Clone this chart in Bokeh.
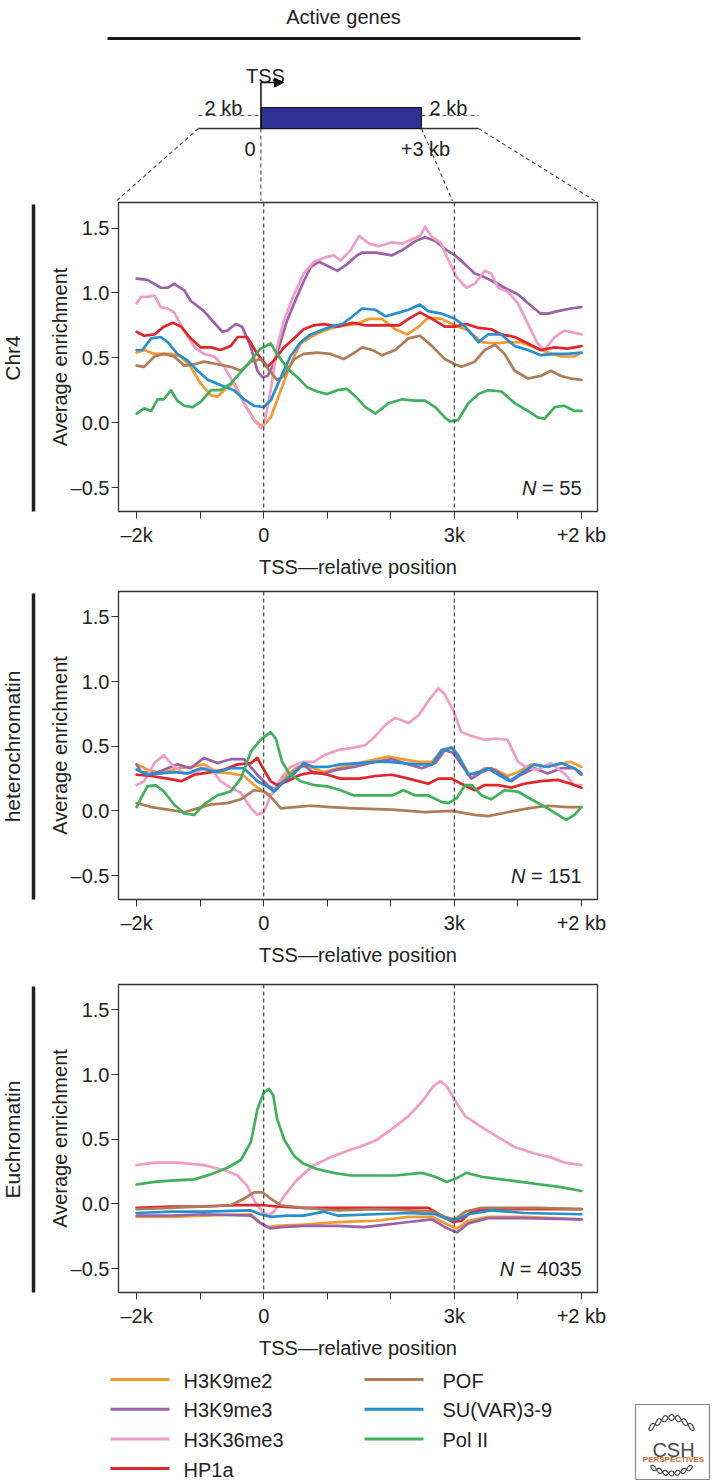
import numpy as np
from bokeh.plotting import figure
from bokeh.layouts import column, row
from bokeh.models import Range1d, FixedTicker, Label, Span, Arrow, NormalHead
from bokeh.core.properties import value
from bokeh.embed import file_html
from bokeh.resources import INLINE

# ---------------- data ----------------
SERIES = ["H3K9me2", "H3K9me3", "H3K36me3", "HP1a", "POF", "SU(VAR)3-9", "Pol II"]
COLORS = ["#F39A2E", "#9B62AC", "#F19CC7", "#E2242B", "#B07C57", "#2590CF", "#3FB15B"]
PANEL_NAMES = ["Chr4", "heterochromatin", "Euchromatin"]
PANEL_N = ["55", "151", "4035"]
X_TICKS = [-2, -1, 0, 1, 2, 3, 4, 5]
X_TICK_LABELS = ["\u20132k", "", "0", "", "", "3k", "", "+2 kb"]
Y_TICKS = [-0.5, 0.0, 0.5, 1.0, 1.5]
Y_TICK_LABELS = ["\u20130.5", "0.0", "0.5", "1.0", "1.5"]

# Chr4 (x in kb relative to TSS, gene body 0..3, flanks 2 kb)
CHR4_H3K9ME2 = [(-2.0,0.54),(-1.88,0.56),(-1.72,0.53),(-1.46,0.53),(-1.30,0.51),(-1.15,0.43),(-0.99,0.30),(-0.83,0.21),(-0.73,0.20),(-0.60,0.26),(-0.47,0.31),(-0.31,0.15),(-0.15,0.02),(-0.02,-0.03),(0.11,0.04),(0.27,0.25),(0.42,0.45),(0.58,0.61),(0.74,0.66),(0.95,0.71),(1.16,0.74),(1.45,0.76),(1.66,0.80),(1.86,0.80),(2.07,0.72),(2.26,0.68),(2.44,0.74),(2.59,0.81),(2.80,0.80),(3.01,0.75),(3.22,0.71),(3.43,0.62),(3.64,0.61),(3.84,0.62),(4.05,0.62),(4.26,0.58),(4.47,0.54),(4.68,0.51),(4.89,0.51),(5.0,0.54)]
CHR4_H3K9ME3 = [(-2.0,1.11),(-1.83,1.10),(-1.62,1.04),(-1.51,1.04),(-1.41,1.07),(-1.25,1.02),(-1.15,0.94),(-0.94,0.86),(-0.78,0.77),(-0.65,0.70),(-0.57,0.71),(-0.44,0.76),(-0.34,0.74),(-0.20,0.58),(-0.10,0.40),(-0.02,0.35),(0.06,0.36),(0.16,0.45),(0.27,0.63),(0.37,0.79),(0.48,0.92),(0.63,1.09),(0.74,1.20),(0.87,1.24),(1.0,1.21),(1.16,1.17),(1.31,1.22),(1.47,1.29),(1.55,1.31),(1.76,1.31),(2.02,1.29),(2.18,1.33),(2.39,1.40),(2.54,1.43),(2.70,1.40),(2.85,1.34),(3.01,1.29),(3.17,1.22),(3.32,1.15),(3.48,1.12),(3.64,1.08),(3.79,1.04),(4.0,0.99),(4.16,0.92),(4.36,0.84),(4.47,0.84),(4.63,0.86),(4.83,0.88),(5.0,0.89)]
CHR4_H3K36ME3 = [(-2.0,0.92),(-1.93,0.97),(-1.83,0.97),(-1.72,0.98),(-1.62,0.89),(-1.51,0.88),(-1.41,0.85),(-1.25,0.71),(-1.09,0.58),(-0.94,0.53),(-0.78,0.51),(-0.62,0.43),(-0.47,0.30),(-0.31,0.15),(-0.15,0.02),(-0.05,-0.04),(0.0,-0.03),(0.11,0.25),(0.21,0.58),(0.32,0.79),(0.48,0.99),(0.63,1.15),(0.79,1.24),(0.95,1.27),(1.10,1.29),(1.21,1.25),(1.37,1.33),(1.50,1.44),(1.66,1.38),(1.81,1.36),(2.02,1.39),(2.18,1.38),(2.36,1.42),(2.46,1.44),(2.54,1.51),(2.65,1.43),(2.78,1.39),(2.91,1.25),(3.04,1.12),(3.19,1.04),(3.32,1.07),(3.48,1.17),(3.58,1.15),(3.69,1.04),(3.84,1.01),(4.0,0.92),(4.16,0.76),(4.31,0.61),(4.42,0.56),(4.58,0.66),(4.73,0.71),(5.0,0.68)]
CHR4_HP1A = [(-2.0,0.70),(-1.88,0.67),(-1.72,0.68),(-1.57,0.74),(-1.43,0.77),(-1.30,0.74),(-1.15,0.65),(-0.99,0.58),(-0.83,0.58),(-0.68,0.56),(-0.52,0.59),(-0.41,0.66),(-0.26,0.66),(-0.10,0.53),(0.06,0.43),(0.16,0.48),(0.32,0.58),(0.48,0.65),(0.63,0.72),(0.79,0.75),(0.95,0.76),(1.16,0.74),(1.40,0.77),(1.60,0.75),(1.86,0.75),(2.13,0.75),(2.28,0.80),(2.46,0.85),(2.65,0.80),(2.85,0.74),(3.01,0.74),(3.19,0.76),(3.38,0.73),(3.58,0.72),(3.74,0.68),(3.95,0.66),(4.16,0.61),(4.36,0.56),(4.58,0.58),(4.78,0.57),(5.0,0.59)]
CHR4_POF = [(-2.0,0.44),(-1.88,0.43),(-1.72,0.51),(-1.57,0.53),(-1.41,0.51),(-1.25,0.44),(-1.09,0.45),(-0.94,0.47),(-0.73,0.45),(-0.52,0.43),(-0.36,0.40),(-0.20,0.47),(-0.05,0.49),(0.11,0.39),(0.21,0.33),(0.32,0.36),(0.48,0.49),(0.63,0.53),(0.84,0.54),(1.05,0.53),(1.26,0.49),(1.40,0.53),(1.55,0.58),(1.71,0.56),(1.86,0.52),(2.07,0.56),(2.28,0.65),(2.46,0.67),(2.65,0.59),(2.85,0.49),(3.01,0.45),(3.11,0.43),(3.32,0.47),(3.48,0.56),(3.64,0.60),(3.79,0.53),(3.95,0.40),(4.16,0.34),(4.36,0.36),(4.52,0.40),(4.68,0.36),(4.83,0.34),(5.0,0.33)]
CHR4_SUVAR = [(-2.0,0.56),(-1.91,0.56),(-1.77,0.65),(-1.62,0.66),(-1.51,0.62),(-1.36,0.53),(-1.20,0.48),(-1.04,0.40),(-0.88,0.33),(-0.68,0.29),(-0.47,0.25),(-0.31,0.18),(-0.15,0.13),(0.0,0.12),(0.11,0.17),(0.27,0.35),(0.42,0.51),(0.58,0.62),(0.74,0.68),(0.90,0.71),(1.05,0.74),(1.24,0.76),(1.40,0.82),(1.55,0.88),(1.76,0.87),(1.92,0.82),(2.07,0.84),(2.28,0.87),(2.46,0.91),(2.59,0.86),(2.80,0.84),(3.01,0.80),(3.17,0.74),(3.38,0.62),(3.53,0.68),(3.74,0.68),(3.95,0.59),(4.16,0.56),(4.36,0.52),(4.58,0.53),(4.78,0.53),(5.0,0.54)]
CHR4_POLII = [(-2.0,0.07),(-1.88,0.11),(-1.77,0.09),(-1.67,0.18),(-1.57,0.18),(-1.46,0.25),(-1.36,0.17),(-1.25,0.13),(-1.12,0.12),(-0.99,0.16),(-0.83,0.25),(-0.68,0.25),(-0.52,0.30),(-0.36,0.39),(-0.20,0.48),(-0.05,0.57),(0.11,0.61),(0.21,0.53),(0.37,0.42),(0.53,0.35),(0.69,0.27),(0.84,0.24),(1.0,0.22),(1.16,0.25),(1.31,0.26),(1.45,0.20),(1.60,0.12),(1.76,0.07),(1.97,0.15),(2.18,0.18),(2.39,0.17),(2.54,0.17),(2.70,0.12),(2.85,0.04),(2.93,0.01),(3.06,0.02),(3.22,0.15),(3.38,0.22),(3.53,0.25),(3.74,0.24),(3.95,0.15),(4.16,0.09),(4.31,0.04),(4.42,0.03),(4.58,0.12),(4.73,0.13),(4.89,0.09),(5.0,0.09)]

# heterochromatin
HET_H3K9ME2 = [(-2.0,0.36),(-1.83,0.32),(-1.62,0.29),(-1.36,0.33),(-1.15,0.34),(-0.94,0.36),(-0.73,0.30),(-0.52,0.29),(-0.31,0.27),(-0.15,0.20),(0.0,0.15),(0.11,0.12),(0.21,0.18),(0.37,0.28),(0.53,0.34),(0.74,0.34),(0.95,0.30),(1.16,0.33),(1.42,0.36),(1.76,0.40),(1.97,0.42),(2.18,0.40),(2.44,0.38),(2.65,0.38),(2.80,0.47),(2.96,0.49),(3.06,0.43),(3.22,0.29),(3.32,0.28),(3.48,0.33),(3.64,0.32),(3.84,0.27),(4.0,0.30),(4.21,0.36),(4.42,0.34),(4.63,0.36),(4.83,0.38),(5.0,0.34)]
HET_H3K9ME3 = [(-2.0,0.36),(-1.93,0.30),(-1.72,0.29),(-1.51,0.33),(-1.36,0.36),(-1.15,0.33),(-0.94,0.41),(-0.73,0.37),(-0.52,0.40),(-0.31,0.40),(-0.10,0.28),(0.06,0.20),(0.19,0.16),(0.32,0.23),(0.48,0.30),(0.63,0.36),(0.79,0.29),(0.95,0.29),(1.16,0.32),(1.42,0.34),(1.76,0.38),(2.02,0.40),(2.28,0.36),(2.49,0.33),(2.70,0.37),(2.85,0.47),(2.98,0.45),(3.11,0.36),(3.27,0.25),(3.43,0.30),(3.58,0.33),(3.74,0.28),(3.90,0.23),(4.05,0.28),(4.26,0.33),(4.47,0.29),(4.68,0.33),(4.89,0.33),(5.0,0.28)]
HET_H3K36ME3 = [(-2.0,0.20),(-1.88,0.23),(-1.72,0.37),(-1.57,0.43),(-1.41,0.34),(-1.25,0.29),(-1.09,0.29),(-0.94,0.33),(-0.83,0.33),(-0.68,0.23),(-0.52,0.18),(-0.36,0.14),(-0.20,0.02),(-0.10,-0.03),(0.0,-0.01),(0.11,0.12),(0.27,0.25),(0.42,0.34),(0.63,0.38),(0.79,0.38),(0.95,0.43),(1.16,0.47),(1.42,0.49),(1.60,0.51),(1.76,0.58),(1.92,0.67),(2.07,0.72),(2.28,0.68),(2.44,0.74),(2.59,0.85),(2.75,0.95),(2.85,0.90),(2.98,0.78),(3.11,0.61),(3.27,0.58),(3.48,0.55),(3.64,0.56),(3.84,0.55),(4.0,0.38),(4.16,0.33),(4.31,0.32),(4.52,0.37),(4.73,0.29),(4.89,0.20),(5.0,0.20)]
HET_HP1A = [(-2.0,0.28),(-1.77,0.27),(-1.51,0.25),(-1.30,0.23),(-1.09,0.28),(-0.83,0.30),(-0.62,0.32),(-0.41,0.36),(-0.20,0.37),(-0.10,0.41),(0.0,0.32),(0.11,0.23),(0.21,0.20),(0.37,0.23),(0.58,0.28),(0.79,0.30),(1.0,0.28),(1.21,0.25),(1.50,0.25),(1.76,0.27),(2.02,0.28),(2.28,0.25),(2.59,0.21),(2.75,0.25),(2.96,0.25),(3.11,0.21),(3.32,0.16),(3.48,0.20),(3.69,0.20),(3.90,0.18),(4.10,0.21),(4.36,0.23),(4.63,0.24),(4.83,0.21),(5.0,0.18)]
HET_POF = [(-2.0,0.06),(-1.77,0.03),(-1.51,0.01),(-1.25,-0.01),(-1.04,0.02),(-0.83,0.05),(-0.57,0.06),(-0.36,0.09),(-0.15,0.16),(0.0,0.15),(0.11,0.11),(0.27,0.02),(0.48,0.03),(0.74,0.04),(1.05,0.03),(1.42,0.02),(2.02,0.01),(2.54,-0.01),(2.96,0.0),(3.32,-0.03),(3.53,-0.04),(3.84,-0.01),(4.16,0.02),(4.47,0.04),(4.78,0.03),(5.0,0.03)]
HET_SUVAR = [(-2.0,0.32),(-1.83,0.28),(-1.62,0.29),(-1.41,0.30),(-1.20,0.29),(-0.99,0.33),(-0.73,0.30),(-0.52,0.33),(-0.31,0.33),(-0.10,0.23),(0.06,0.19),(0.16,0.15),(0.32,0.23),(0.48,0.29),(0.63,0.37),(0.79,0.34),(1.0,0.34),(1.21,0.36),(1.50,0.37),(1.76,0.38),(1.97,0.38),(2.18,0.37),(2.44,0.36),(2.65,0.36),(2.80,0.47),(2.96,0.49),(3.06,0.43),(3.22,0.28),(3.38,0.30),(3.53,0.33),(3.69,0.28),(3.87,0.23),(4.05,0.29),(4.26,0.36),(4.47,0.34),(4.68,0.37),(4.89,0.33),(5.0,0.29)]
HET_POLII = [(-2.0,0.03),(-1.93,0.10),(-1.83,0.19),(-1.70,0.20),(-1.57,0.15),(-1.41,0.05),(-1.25,-0.02),(-1.09,-0.03),(-0.94,0.05),(-0.73,0.12),(-0.52,0.15),(-0.36,0.25),(-0.20,0.46),(-0.05,0.55),(0.11,0.61),(0.19,0.56),(0.29,0.38),(0.40,0.29),(0.58,0.23),(0.79,0.20),(1.0,0.19),(1.21,0.16),(1.42,0.12),(1.76,0.12),(2.02,0.12),(2.20,0.16),(2.39,0.12),(2.59,0.12),(2.80,0.07),(2.91,0.06),(3.04,0.10),(3.17,0.20),(3.27,0.20),(3.43,0.12),(3.58,0.09),(3.79,0.16),(4.0,0.15),(4.21,0.09),(4.47,0.02),(4.63,-0.03),(4.76,-0.07),(4.89,-0.03),(5.0,0.03)]

# euchromatin
EU_H3K9ME2 = [(-2.0,-0.10),(-1.46,-0.10),(-0.94,-0.09),(-0.20,-0.08),(-0.07,-0.14),(0.06,-0.18),(0.21,-0.17),(0.63,-0.16),(1.16,-0.14),(1.76,-0.13),(2.28,-0.10),(2.65,-0.10),(2.85,-0.15),(3.04,-0.19),(3.22,-0.13),(3.53,-0.10),(4.10,-0.10),(5.0,-0.12)]
EU_H3K9ME3 = [(-2.0,-0.09),(-1.46,-0.09),(-0.94,-0.08),(-0.20,-0.09),(-0.05,-0.15),(0.11,-0.19),(0.27,-0.18),(0.63,-0.17),(1.16,-0.17),(1.58,-0.18),(1.76,-0.17),(2.28,-0.14),(2.65,-0.12),(2.85,-0.18),(3.04,-0.22),(3.22,-0.15),(3.53,-0.11),(4.10,-0.11),(5.0,-0.12)]
EU_H3K36ME3 = [(-2.0,0.30),(-1.72,0.32),(-1.36,0.32),(-0.94,0.30),(-0.62,0.26),(-0.41,0.22),(-0.26,0.14),(-0.13,0.01),(-0.02,-0.06),(0.08,-0.09),(0.16,-0.06),(0.32,0.06),(0.53,0.19),(0.79,0.30),(1.05,0.36),(1.31,0.41),(1.50,0.44),(1.76,0.49),(2.02,0.58),(2.28,0.68),(2.49,0.79),(2.67,0.91),(2.78,0.95),(2.88,0.91),(3.01,0.80),(3.17,0.68),(3.38,0.61),(3.64,0.53),(3.95,0.44),(4.26,0.39),(4.52,0.36),(4.73,0.32),(5.0,0.30)]
EU_HP1A = [(-2.0,-0.03),(-1.46,-0.02),(-0.94,-0.02),(-0.41,-0.01),(0.0,-0.01),(0.21,-0.02),(0.63,-0.03),(1.16,-0.03),(1.76,-0.03),(2.28,-0.03),(2.59,-0.03),(2.80,-0.09),(2.98,-0.14),(3.11,-0.13),(3.27,-0.06),(3.53,-0.04),(4.10,-0.04),(5.0,-0.04)]
EU_POF = [(-2.0,-0.04),(-1.46,-0.03),(-0.94,-0.02),(-0.52,-0.01),(-0.31,0.04),(-0.15,0.09),(-0.02,0.09),(0.11,0.04),(0.27,-0.01),(0.63,-0.03),(1.16,-0.05),(1.76,-0.04),(2.28,-0.05),(2.65,-0.06),(2.85,-0.10),(3.01,-0.12),(3.17,-0.06),(3.43,-0.03),(3.84,-0.03),(4.36,-0.03),(5.0,-0.04)]
EU_SUVAR = [(-2.0,-0.07),(-1.46,-0.06),(-0.94,-0.06),(-0.20,-0.05),(-0.05,-0.08),(0.11,-0.10),(0.37,-0.09),(0.63,-0.09),(0.95,-0.06),(1.16,-0.09),(1.76,-0.08),(2.28,-0.07),(2.70,-0.08),(2.91,-0.12),(3.04,-0.12),(3.22,-0.08),(3.58,-0.05),(4.10,-0.07),(5.0,-0.08)]
EU_POLII = [(-2.0,0.15),(-1.72,0.17),(-1.46,0.18),(-1.09,0.19),(-0.83,0.23),(-0.57,0.28),(-0.36,0.34),(-0.20,0.48),(-0.10,0.73),(0.0,0.86),(0.08,0.89),(0.15,0.84),(0.21,0.66),(0.32,0.50),(0.48,0.37),(0.63,0.31),(0.84,0.27),(1.10,0.24),(1.37,0.22),(1.66,0.22),(2.07,0.22),(2.49,0.24),(2.70,0.21),(2.88,0.17),(3.04,0.20),(3.19,0.24),(3.43,0.21),(3.74,0.19),(4.05,0.17),(4.36,0.15),(4.68,0.13),(5.0,0.10)]

PANEL_DATA = [
    [CHR4_H3K9ME2, CHR4_H3K9ME3, CHR4_H3K36ME3, CHR4_HP1A, CHR4_POF, CHR4_SUVAR, CHR4_POLII],
    [HET_H3K9ME2, HET_H3K9ME3, HET_H3K36ME3, HET_HP1A, HET_POF, HET_SUVAR, HET_POLII],
    [EU_H3K9ME2, EU_H3K9ME3, EU_H3K36ME3, EU_HP1A, EU_POF, EU_SUVAR, EU_POLII],
]

# ---------------- layout / style ----------------
FONT = "Liberation Sans"
FS = "20px"
TXT = "#222222"
TOTAL_W = 715
TOTAL_H = 1484
LAB_W = 45
PANEL_W = TOTAL_W - LAB_W
BORDER_L = 69
FRAME_W = 483
BORDER_R = PANEL_W - BORDER_L - FRAME_W
FRAME_X0 = LAB_W + BORDER_L
DIAG_H = 201
PANEL_H = [389, 393, 378]
FRAME_H = [309, 308, 308]
BORDER_T = 1
LEG_H = TOTAL_H - DIAG_H - sum(PANEL_H)
XMIN, XMAX = -2.285, 5.253
YMIN, YMAX = -0.685, 1.697


def px(xkb):
    return FRAME_X0 + (xkb - XMIN) / (XMAX - XMIN) * FRAME_W


def base_fig(w, h, xr, yr):
    f = figure(width=w, height=h, x_range=Range1d(*xr), y_range=Range1d(*yr),
               output_backend="svg", toolbar_location=None, title=None,
               x_axis_location=None, y_axis_location=None, min_border=0)
    f.xgrid.visible = False
    f.ygrid.visible = False
    f.outline_line_color = None
    f.background_fill_color = "white"
    f.border_fill_color = "white"
    return f


def txt(f, x, y, t, size=FS, align="center", baseline="alphabetic", angle=0.0, color=TXT, style="normal"):
    f.text(x=x, y=y, text=t, angle=angle, text_font=value(FONT), text_font_size=value(size),
           text_align=align, text_baseline=baseline, text_color=color, text_font_style=style)


# ---------------- top schematic ----------------
diag = base_fig(TOTAL_W, DIAG_H, (0, TOTAL_W), (DIAG_H, 0))
TSS_X = px(0)
GENE_END_X = 421
FLANK_L, FLANK_R = 198, 478
Y_DASH, Y_BASE, Y_BOX_TOP, Y_ARROW = 115, 128, 107, 82

txt(diag, [343], [16], ["Active genes"])
diag.segment(x0=[107], y0=[38], x1=[580], y1=[38], line_color="#1a1a1a", line_width=3.2)
diag.segment(x0=[FLANK_L, GENE_END_X], y0=[Y_DASH, Y_DASH], x1=[TSS_X, FLANK_R], y1=[Y_DASH, Y_DASH],
             line_color="#555555", line_width=1.2, line_dash="4 3")
diag.segment(x0=[FLANK_L], y0=[Y_BASE], x1=[FLANK_R], y1=[Y_BASE], line_color="#333333", line_width=1.3)
diag.segment(x0=[FLANK_L, FLANK_R, TSS_X, GENE_END_X], y0=[Y_BASE] * 4,
             x1=[px(XMIN), px(XMAX), px(0), px(3)], y1=[DIAG_H + 1] * 4,
             line_color="#444444", line_width=1.1, line_dash="4 3")
diag.quad(left=[TSS_X], right=[GENE_END_X], top=[Y_BOX_TOP], bottom=[Y_BASE],
          fill_color="#2E3192", line_color="#111111", line_width=1)
diag.segment(x0=[TSS_X], y0=[Y_BASE], x1=[TSS_X], y1=[Y_ARROW], line_color="#111111", line_width=1.5)
diag.add_layout(Arrow(x_start=TSS_X, y_start=Y_ARROW, x_end=283, y_end=Y_ARROW, line_width=1.5,
                      line_color="#111111",
                      end=NormalHead(size=9, fill_color="#111111", line_color="#111111")))
txt(diag, [265], [75], ["TSS"])
txt(diag, [223, 448], [107, 107], ["2 kb", "2 kb"])
txt(diag, [255], [148], ["0"], align="right")
txt(diag, [425], [148], ["+3 kb"])

# ---------------- row labels ----------------
lab_h = sum(PANEL_H)
labf = base_fig(LAB_W, lab_h, (0, LAB_W), (lab_h, 0))
tops, bots = [], []
acc = 0
for i in range(3):
    tops.append(acc + BORDER_T + 2)
    bots.append(acc + BORDER_T + FRAME_H[i])
    acc += PANEL_H[i]
labf.segment(x0=[33] * 3, y0=tops, x1=[33] * 3, y1=bots, line_color="#222222", line_width=3.5)
txt(labf, [12] * 3, [(a + b) / 2 for a, b in zip(tops, bots)], PANEL_NAMES, size="21px",
    baseline="middle", angle=np.pi / 2)


# ---------------- data panels ----------------
def make_panel(idx):
    h = PANEL_H[idx]
    p = figure(width=PANEL_W, height=h, x_range=Range1d(XMIN, XMAX), y_range=Range1d(YMIN, YMAX),
               output_backend="svg", toolbar_location=None, title=None,
               min_border_left=BORDER_L, min_border_right=BORDER_R, min_border_top=BORDER_T,
               min_border_bottom=h - BORDER_T - FRAME_H[idx])
    p.grid.visible = False
    p.outline_line_color = "#333333"
    p.outline_line_width = 1.3
    p.background_fill_color = "white"
    p.border_fill_color = "white"

    for ax in (p.xaxis[0], p.yaxis[0]):
        ax.axis_line_color = None
        ax.major_tick_in = 0
        ax.major_tick_out = 7
        ax.major_tick_line_color = "#333333"
        ax.major_tick_line_width = 1
        ax.minor_tick_line_color = None
        ax.major_label_text_font = FONT
        ax.major_label_text_font_size = FS
        ax.major_label_text_color = TXT
        ax.axis_label_text_font = FONT
        ax.axis_label_text_font_size = FS
        ax.axis_label_text_font_style = "normal"
        ax.axis_label_text_color = TXT

    p.xaxis.ticker = FixedTicker(ticks=X_TICKS)
    p.xaxis.major_label_overrides = dict(zip(X_TICKS, X_TICK_LABELS))
    p.xaxis.major_label_standoff = 5
    p.xaxis.axis_label = "TSS\u2014relative position"
    p.xaxis.axis_label_standoff = 7

    p.yaxis.ticker = FixedTicker(ticks=Y_TICKS)
    p.yaxis.major_label_overrides = dict(zip(Y_TICKS, Y_TICK_LABELS))
    p.yaxis.major_label_standoff = 2
    p.yaxis.axis_label = "Average enrichment"
    p.yaxis.axis_label_standoff = -3

    for loc in (0, 3):
        p.add_layout(Span(location=loc, dimension="height", line_color="#444444",
                          line_width=1.2, line_dash="4 3"))

    for name, color, pts in zip(SERIES, COLORS, PANEL_DATA[idx]):
        xs = [a for a, b in pts]
        ys = [b for a, b in pts]
        p.line(xs, ys, line_color=color, line_width=2.7, line_join="round", line_cap="round")

    n = PANEL_N[idx]
    p.add_layout(Label(x=XMAX, y=-0.585, x_offset=-16, text="= " + n, text_align="right",
                       text_font=FONT, text_font_size=FS, text_color=TXT))
    n_off = -16 - (len(n) * 0.556 + 0.584 + 0.556) * 20
    p.add_layout(Label(x=XMAX, y=-0.585, x_offset=n_off, text="N", text_align="right",
                       text_font=FONT, text_font_size=FS, text_color=TXT,
                       text_font_style="italic"))
    return p


panels = [make_panel(i) for i in range(3)]

# ---------------- legend + logo ----------------
leg = base_fig(TOTAL_W, LEG_H, (0, TOTAL_W), (LEG_H, 0))
LEG_LINE_X0 = [110, 364]
LEG_TEXT_X = [183, 442]
for i, (name, color) in enumerate(zip(SERIES, COLORS)):
    col = 0 if i < 4 else 1
    r = i if i < 4 else i - 4
    y = 18 + r * 29.7
    leg.segment(x0=[LEG_LINE_X0[col]], y0=[y], x1=[LEG_LINE_X0[col] + 59], y1=[y],
                line_color=color, line_width=3)
    txt(leg, [LEG_TEXT_X[col]], [y + 1], [name], align="left", baseline="middle")

# CSH Perspectives badge
BX0, BX1, BY0, BY1 = 635, 709, 43, 118
leg.quad(left=[BX0], right=[BX1], top=[BY0], bottom=[BY1], fill_color="white",
         line_color="#8a8a8a", line_width=1.2)
cx = (BX0 + BX1) / 2
txt(leg, [cx + 1], [BY0 + 45], ["CSH"], size="20px", color="#4a4a4a")
txt(leg, [cx + 1], [BY0 + 55], ["PERSPECTIVES"], size="8px", color="#C4692B", style="bold")
t = np.linspace(0, 1, 80)
for (x0, w, yb, arc, amp) in [(BX0 + 13, 46, BY0 + 25, 12, 3.0), (BX0 + 15, 42, BY0 + 62, -7, 2.5)]:
    xs = x0 + t * w
    yc = yb - arc * np.sin(np.pi * t)
    ph = amp * np.sin(2 * np.pi * 3.5 * t)
    leg.line(xs, yc + ph, line_color="#444444", line_width=1.2)
    leg.line(xs, yc - ph, line_color="#444444", line_width=1.2)

layout = column(diag, row(labf, column(*panels)), leg)
open("out.html", "w").write(file_html(layout, INLINE))
